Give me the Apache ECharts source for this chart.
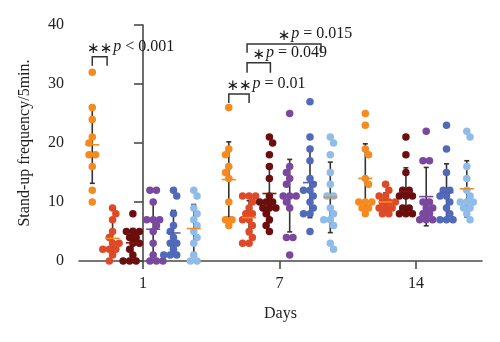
<!DOCTYPE html>
<html>
<head>
<meta charset="utf-8">
<script src="https://cdn.jsdelivr.net/npm/echarts@6/dist/echarts.min.js"></script>
<style>
  html, body { margin: 0; padding: 0; background: #fff; }
  #chart { width: 500px; height: 342px; }
</style>
</head>
<body>
<div id="chart"></div>
<script>
// Day categories on the x axis
const days = ['1', '7', '14'];

// Stand-up counts per animal, one array per day (day 1, day 7, day 14)
const group1 = [
  [32, 26, 24, 21, 20, 18, 18, 16, 12, 10],
  [26, 19, 18, 16, 15, 14, 10, 7, 7, 6],
  [25, 23, 19, 18, 14, 13, 10, 10, 10, 9, 9, 8]
];
const group2 = [
  [9, 8, 7, 5, 4, 3, 3, 2, 2, 2, 1, 0],
  [11, 11, 11, 10, 9, 8, 8, 7, 7, 6, 5, 4, 3, 3],
  [13, 12, 11, 11, 10, 10, 10, 9, 9, 9, 8, 8]
];
const group3 = [
  [8, 5, 5, 5, 4, 4, 3, 3, 2, 1, 0, 0, 0],
  [21, 20, 18, 16, 14, 11, 10, 10, 10, 9, 9, 9, 8, 7, 6, 5],
  [21, 18, 15, 12, 12, 11, 11, 11, 9, 9, 8, 8, 8]
];
const group4 = [
  [12, 12, 10, 7, 7, 7, 6, 5, 3, 1, 0, 0, 0],
  [25, 16, 15, 14, 13, 11, 11, 11, 10, 9, 4, 4, 1],
  [22, 17, 17, 10, 10, 9, 9, 8, 8, 7, 7, 7]
];
const group5 = [
  [12, 11, 8, 6, 5, 4, 3, 3, 2, 1, 1, 1],
  [27, 21, 19, 17, 14, 13, 12, 12, 11, 10, 9, 8, 8, 5],
  [23, 19, 15, 12, 12, 11, 11, 10, 9, 8, 7, 7, 7]
];
const group6 = [
  [12, 11, 9, 8, 7, 6, 5, 4, 3, 1, 0, 0],
  [21, 20, 18, 15, 13, 11, 11, 9, 8, 7, 7, 6, 3, 2],
  [22, 21, 16, 14, 12, 11, 10, 10, 10, 9, 9, 8, 7]
];
const groups = [group1, group2, group3, group4, group5, group6];

// Significance labels: day index, stars and p-value text
const comparisonDays = [0, 1, 1, 1];
const comparisonStars = ['∗∗', '∗∗', '∗', '∗'];
const comparisonText = [' < 0.001', ' = 0.01', ' = 0.049', ' = 0.015'];

// ---- layout / style ----
const groupColors = ['#F58A1F', '#DE4A27', '#6B0E0E', '#7B48A0', '#5169B9', '#8FBCE8'];
const meanColors  = ['#F58A1F', '#F58A1F', '#7A1A12', '#7B48A0', '#4F63B0', '#F58A1F'];
const groupStep = 0.1487;          // spacing between groups inside a day, in x units
const dotSize = 7.5;
const fontFamily = '"Liberation Serif", "DejaVu Serif", serif';
const axisColor = '#4a4a4a';
// bracket geometry: [from group, to group, top level, leg end level]
const bracketLayout = [
  [0, 0.73, 34.6, 33.1],
  [0, 1, 28.3, 26.8],
  [0.9, 2.05, 33.6, 31.9],
  [0.9, 4.54, 36.8, 35.3]
];

const chart = echarts.init(document.getElementById('chart'), null, { renderer: 'canvas' });

chart.setOption({
  animation: false,
  grid: { left: 79, right: 18, top: 25, bottom: 81, containLabel: false },
  xAxis: {
    type: 'value', min: -0.469, max: 2.483,
    axisLine: { show: true, onZero: false, lineStyle: { color: axisColor, width: 1.6 } },
    splitLine: { show: false },
    axisTick: { show: true, customValues: [0, 1, 2], length: 8, lineStyle: { color: axisColor, width: 1.6 } },
    axisLabel: {
      customValues: [0, 1, 2], formatter: v => days[Math.round(v)],
      margin: 15, fontSize: 16, fontFamily, color: '#222'
    },
    name: 'Days', nameLocation: 'middle', nameGap: 45,
    nameTextStyle: { fontSize: 16, fontFamily, color: '#222' }
  },
  yAxis: {
    type: 'value', min: 0, max: 40, interval: 10,
    axisLine: { show: true, lineStyle: { color: axisColor, width: 1.6 } },
    splitLine: { show: false },
    axisTick: { show: true, length: 9, lineStyle: { color: axisColor, width: 1.6 } },
    axisLabel: { margin: 15, fontSize: 16, fontFamily, color: '#222' },
    name: 'Stand-up frequency/5min.', nameLocation: 'middle', nameGap: 46,
    nameTextStyle: { fontSize: 16, fontFamily, color: '#222' }
  },
  series: []
});

// pixel scales from the axes
const pxPerX = chart.convertToPixel({ xAxisIndex: 0 }, 1) - chart.convertToPixel({ xAxisIndex: 0 }, 0);
const pxPerY = chart.convertToPixel({ yAxisIndex: 0 }, 0) - chart.convertToPixel({ yAxisIndex: 0 }, 1);

// Beeswarm layout: tied values form a centred row, a row shifts sideways
// by half a dot when it would sit on top of a neighbouring row.
const rowGap = 6.5, shiftStep = 3.25, minDist = 6.0;
function swarm(values) {
  const idx = values.map((v, i) => i).sort((a, b) => values[b] - values[a]);
  const offs = new Array(values.length).fill(0);
  const placed = [];
  let side = -1;
  let r = 0;
  while (r < idx.length) {
    let e = r;
    while (e + 1 < idx.length && values[idx[e + 1]] === values[idx[r]]) e++;
    const k = e - r + 1;
    const y = values[idx[r]] * pxPerY;
    const base = [];
    for (let j = 0; j < k; j++) base.push((j - (k - 1) / 2) * rowGap);
    for (let t = 0; t < 40; t++) {
      const cands = t === 0 ? [0] : [side * t * shiftStep, -side * t * shiftStep];
      const s = cands.find(c => base.every(b => placed.every(p => Math.hypot(p.x - (b + c), p.y - y) >= minDist)));
      if (s !== undefined) {
        base.forEach((b, j) => { offs[idx[r + j]] = b + s; placed.push({ x: b + s, y }); });
        side = s !== 0 ? -Math.sign(s) : -side;
        break;
      }
    }
    r = e + 1;
  }
  return offs;
}

function mean(a) { return a.reduce((s, v) => s + v, 0) / a.length; }
function sd(a) {
  const m = mean(a);
  return Math.sqrt(a.reduce((s, v) => s + (v - m) * (v - m), 0) / (a.length - 1));
}
function groupX(day, g) { return day + (g - 2.5) * groupStep; }

const scatterSeries = groups.map((grp, g) => {
  const data = [];
  grp.forEach((vals, d) => {
    const offs = swarm(vals);
    vals.forEach((v, i) => data.push([groupX(d, g) + offs[i] / pxPerX, v]));
  });
  return {
    type: 'scatter', z: 3, symbol: 'circle', symbolSize: dotSize,
    itemStyle: { color: groupColors[g], opacity: 1 },
    data, silent: true
  };
});

// mean ± SD summary per group and day
const summary = [];
groups.forEach((grp, g) => grp.forEach((vals, d) => summary.push([groupX(d, g), mean(vals), sd(vals), g])));

const errorSeries = {
  type: 'custom', z: 2, silent: true, data: summary,
  renderItem(params, api) {
    const x = api.value(0), m = api.value(1), s = api.value(2);
    const top = api.coord([x, m + s]);
    const bot = api.coord([x, m - s]);
    const style = { stroke: '#333', lineWidth: 1.6 };
    return {
      type: 'group', children: [
        { type: 'line', shape: { x1: top[0], y1: top[1], x2: bot[0], y2: bot[1] }, style },
        { type: 'line', shape: { x1: top[0] - 2.5, y1: top[1], x2: top[0] + 2.5, y2: top[1] }, style },
        { type: 'line', shape: { x1: bot[0] - 2.5, y1: bot[1], x2: bot[0] + 2.5, y2: bot[1] }, style }
      ]
    };
  }
};

const meanSeries = {
  type: 'custom', z: 4, silent: true, data: summary,
  renderItem(params, api) {
    const x = api.value(0), m = api.value(1), g = api.value(3);
    const c = api.coord([x, m]);
    return {
      type: 'line', shape: { x1: c[0] - 7, y1: c[1], x2: c[0] + 7, y2: c[1] },
      style: { stroke: meanColors[g], lineWidth: 1.6 }
    };
  }
};

// width of the star glyphs, used to centre them above each bracket
const measureCtx = document.createElement('canvas').getContext('2d');
function textWidth(str, font) { measureCtx.font = font; return measureCtx.measureText(str).width; }
const starFont = '15px "DejaVu Sans"';

const bracketSeries = {
  type: 'custom', z: 5, silent: true, data: bracketLayout.map((b, i) => [i]),
  renderItem(params, api) {
    const i = api.value(0);
    const [g1, g2, topLevel, legLevel] = bracketLayout[i];
    const d = comparisonDays[i];
    const p1 = api.coord([groupX(d, g1), topLevel]);
    const p2 = api.coord([groupX(d, g2), topLevel]);
    const leg = api.coord([groupX(d, g1), legLevel]);
    const mid = (p1[0] + p2[0]) / 2;
    const sw = textWidth(comparisonStars[i], starFont);
    return {
      type: 'group', children: [
        {
          type: 'polyline',
          shape: { points: [[p1[0], leg[1]], [p1[0], p1[1]], [p2[0], p2[1]], [p2[0], leg[1]]] },
          style: { stroke: '#333', lineWidth: 1.5, fill: null }
        },
        {
          type: 'text',
          style: {
            x: mid - sw / 2, y: p1[1] - 10,
            text: '{s|' + comparisonStars[i] + '}{p|p}{n|' + comparisonText[i] + '}',
            align: 'left', verticalAlign: 'middle',
            fill: '#1a1a1a', fontSize: 16, fontFamily,
            rich: {
              s: { fontFamily: '"DejaVu Sans"', fontSize: 15, fill: '#1a1a1a', padding: [4, 1, 0, 0] },
              p: { fontFamily, fontSize: 16, fontStyle: 'italic', fill: '#1a1a1a' },
              n: { fontFamily, fontSize: 16, fill: '#1a1a1a' }
            }
          }
        }
      ]
    };
  }
};

chart.setOption({ series: [errorSeries, ...scatterSeries, meanSeries, bracketSeries] });
</script>
</body>
</html>
